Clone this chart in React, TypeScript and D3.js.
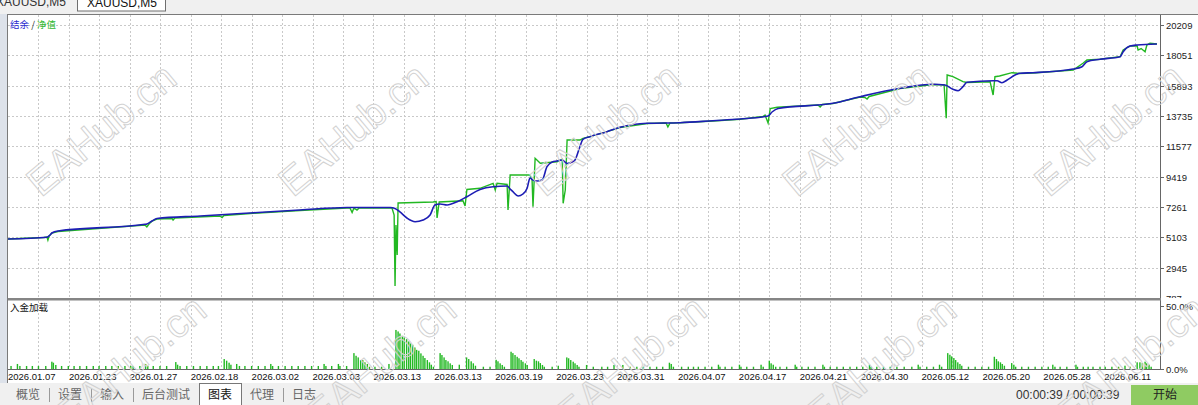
import { useRef, useEffect } from "react";
import * as d3 from "d3";

// balance / equity curves: [test position, account value]
const balance: [number, number][] = [
  [0, 4985], [12.8, 5106], [13.8, 5270], [14.4, 5411], [16.4, 5554], [45.0, 6030],
  [45.6, 6052], [47.3, 6265], [48.9, 6443], [63.1, 6621], [79.5, 6835], [95.9, 7048],
  [111.3, 7226], [125.5, 7226], [127.1, 7155], [128.7, 6906], [131.0, 6479], [133.7, 6216],
  [136.3, 6336], [138.6, 6692], [140.2, 7403], [141.9, 7475], [144.2, 7403], [147.5, 7638],
  [150.7, 7994], [155.0, 8506], [159.3, 8706], [163.9, 8755], [164.9, 8542], [165.8, 8350],
  [167.5, 8044], [169.1, 8186], [170.5, 8613], [171.4, 9324], [172.4, 9182], [173.7, 9111],
  [175.4, 9182], [177.0, 10129], [178.7, 10463], [180.3, 10534], [182.0, 10605], [183.6, 10356],
  [185.2, 10463], [186.2, 10605], [187.8, 11551], [188.8, 12078], [191.1, 12263], [196.7, 12618],
  [201.0, 12931], [209.9, 13216], [220.7, 13259], [231.5, 13401], [240.4, 13522], [249.6, 13735],
  [250.9, 14020], [252.9, 14269], [270.9, 14639], [279.8, 15108], [292.9, 15706], [303.8, 15990],
  [307.7, 15941], [310.3, 15635], [312.0, 15535], [313.6, 15820], [314.9, 16133], [323.5, 16246],
  [324.8, 16246], [326.4, 16104], [328.1, 16296], [330.7, 16652], [332.3, 16773], [336.6, 16816],
  [349.8, 17079], [352.7, 17242], [354.3, 17598], [358.6, 17769], [365.2, 17954], [366.2, 18310],
  [368.5, 18715], [370.8, 18786], [377.3, 18857],
];

const equity: [number, number][] = [
  [0, 4985], [11.8, 5092], [12.8, 5127], [13.1, 4914], [13.5, 5198], [14.4, 5411],
  [16.4, 5518], [45.0, 5981], [45.6, 5839], [46.3, 6052], [47.3, 6265], [48.9, 6408],
  [53.9, 6443], [54.2, 6336], [54.8, 6479], [69.6, 6621], [70.3, 6514], [70.9, 6657],
  [79.5, 6799], [95.9, 7012], [111.3, 7190], [112.3, 7190], [113.0, 6870], [113.6, 7190],
  [114.6, 7048], [115.3, 7190], [126.1, 7190], [126.8, 6692], [127.1, 1641], [127.4, 5981],
  [127.8, 3847], [128.1, 7546], [139.6, 7618], [140.6, 7653], [140.9, 6479], [141.6, 7618],
  [149.4, 7710], [150.1, 7332], [150.7, 8506], [155.0, 8591], [159.3, 8947], [160.0, 8471],
  [160.6, 8947], [163.9, 8862], [164.2, 7048], [164.5, 8115], [164.9, 9538], [171.4, 9538],
  [172.1, 9182], [172.4, 7283], [173.1, 10726], [174.8, 10371], [180.3, 10484], [182.0, 10655],
  [182.3, 7524], [183.0, 8471], [183.6, 12028], [187.8, 12028], [188.8, 12149], [191.1, 12263],
  [196.7, 12618], [201.0, 12917], [209.9, 13202], [216.1, 13238], [216.7, 12953], [217.4, 13238],
  [220.7, 13252], [231.5, 13380], [240.4, 13501], [247.9, 13700], [248.6, 13806], [249.6, 13238],
  [250.3, 14269], [252.6, 14354], [266.0, 14518], [266.7, 14375], [267.4, 14554], [270.9, 14625],
  [279.8, 15087], [281.4, 15051], [282.1, 14945], [282.8, 15123], [292.9, 15692], [303.8, 15976],
  [307.4, 15941], [308.1, 13572], [308.4, 16652], [310.3, 16531], [313.6, 16175], [314.9, 16118],
  [322.5, 16175], [323.5, 15229], [324.1, 16531], [325.6, 16581], [329.7, 16816], [332.3, 16759],
  [336.6, 16795], [349.8, 17008], [353.0, 17485], [354.3, 17719], [358.6, 17769], [365.2, 17954],
  [366.2, 18430], [368.5, 18715], [370.8, 18715], [371.1, 18430], [372.1, 18537], [373.4, 18310],
  [374.0, 18786], [375.0, 18908], [377.3, 18857],
];

// deposit load histogram: [test position, percent]
const depositLoad: [number, number][] = [
  [1.0, 2.4], [3.1, 4.0], [3.9, 2.4], [6.1, 2.4], [8.0, 2.4], [10.0, 2.4], [12.4, 2.4],
  [14.4, 5.8], [14.9, 5.0], [15.7, 3.2], [17.6, 2.4], [19.8, 2.4], [21.7, 2.4], [23.6, 2.4],
  [25.8, 2.4], [28.0, 2.4], [29.9, 2.4], [32.1, 2.4], [34.1, 2.4], [36.2, 2.4], [38.4, 2.4],
  [40.3, 2.4], [41.1, 2.4], [43.3, 2.4], [45.2, 4.0], [45.9, 2.4], [47.7, 2.4], [49.9, 2.4],
  [52.1, 2.4], [55.1, 5.5], [55.7, 3.4], [56.5, 2.4], [58.7, 2.4], [60.9, 2.4], [63.1, 2.4],
  [65.3, 2.4], [67.4, 2.4], [69.1, 2.4], [71.0, 7.9], [71.8, 6.6], [72.6, 5.0], [73.2, 3.4],
  [75.1, 4.0], [76.0, 2.4], [77.8, 2.4], [80.0, 2.4], [82.2, 2.4], [84.4, 2.4], [86.3, 4.0],
  [86.9, 2.4], [88.8, 2.4], [91.0, 2.4], [93.2, 2.4], [95.3, 2.4], [97.5, 2.4], [99.7, 2.4],
  [101.9, 2.4], [103.8, 4.0], [104.4, 2.4], [106.3, 2.4], [108.5, 4.0], [109.0, 2.4], [111.2, 2.4],
  [113.6, 12.6], [114.3, 10.5], [115.0, 9.2], [115.8, 7.1], [116.5, 7.1], [117.2, 5.3], [118.0, 4.0],
  [118.7, 1.8], [120.5, 1.8], [122.7, 1.8], [125.1, 4.0], [127.4, 31.0], [128.1, 29.8], [128.7, 28.2],
  [129.5, 26.3], [130.1, 25.0], [130.9, 23.7], [131.6, 21.9], [132.2, 20.3], [132.9, 19.2], [133.6, 17.1],
  [134.2, 15.2], [134.9, 14.5], [135.6, 12.4], [136.3, 10.5], [136.9, 8.7], [137.7, 7.1], [138.4, 5.3],
  [139.0, 3.4], [139.7, 1.8], [141.9, 12.6], [142.5, 11.1], [143.2, 9.2], [143.8, 7.1], [144.5, 6.1],
  [145.2, 4.5], [145.9, 3.2], [148.2, 3.4], [150.6, 9.2], [151.3, 7.9], [152.1, 6.1], [152.8, 4.5],
  [153.5, 2.6], [156.1, 1.8], [158.3, 1.8], [160.3, 7.3], [160.9, 6.1], [161.6, 4.5], [162.3, 3.2],
  [163.0, 1.8], [165.2, 13.7], [165.8, 12.6], [166.5, 11.1], [167.2, 9.7], [167.8, 8.5], [168.5, 7.1],
  [169.1, 5.8], [169.9, 4.5], [170.5, 3.2], [172.8, 7.9], [173.5, 6.6], [174.2, 6.1], [174.8, 4.7],
  [175.5, 3.2], [176.1, 1.8], [178.7, 1.8], [180.7, 2.6], [183.5, 9.2], [184.1, 8.5], [184.8, 7.1],
  [185.6, 5.8], [186.2, 4.5], [186.9, 3.2], [187.5, 1.8], [190.0, 3.2], [192.2, 1.8], [195.0, 1.8],
  [196.9, 1.8], [199.0, 3.2], [201.9, 3.2], [204.3, 1.8], [206.5, 1.8], [208.6, 1.8], [210.8, 1.8],
  [213.0, 1.8], [215.0, 1.8], [217.2, 5.0], [217.8, 4.0], [218.5, 1.8], [221.2, 1.8], [223.4, 1.8],
  [225.1, 1.8], [226.7, 1.8], [228.9, 1.8], [231.1, 1.8], [233.3, 3.4], [233.8, 1.8], [235.5, 1.8],
  [237.7, 1.8], [240.2, 3.4], [240.7, 1.8], [242.6, 1.8], [244.8, 1.8], [247.3, 3.4], [248.0, 1.8],
  [250.0, 6.6], [250.6, 4.5], [251.3, 3.4], [252.1, 1.8], [253.5, 1.8], [255.7, 1.8], [258.5, 3.4],
  [259.0, 1.8], [260.7, 1.8], [262.8, 1.8], [265.0, 1.8], [267.6, 3.4], [268.1, 1.8], [270.0, 1.8],
  [272.2, 1.8], [274.3, 1.8], [276.5, 1.8], [278.7, 1.8], [280.7, 1.8], [282.9, 3.4], [283.4, 1.8],
  [285.3, 1.8], [287.5, 1.8], [289.7, 1.8], [291.9, 1.8], [294.3, 1.8], [296.8, 1.8], [298.9, 3.4],
  [299.5, 1.8], [301.7, 1.8], [303.9, 1.8], [305.9, 3.4], [306.6, 1.8], [308.6, 12.6], [309.3, 11.3],
  [309.9, 10.0], [310.6, 8.7], [311.2, 7.1], [311.9, 5.3], [312.6, 4.0], [313.2, 2.6], [315.4, 1.8],
  [317.6, 1.8], [319.8, 1.8], [322.0, 1.8], [323.9, 9.7], [324.6, 7.9], [325.2, 6.1], [325.9, 5.3],
  [326.5, 4.0], [327.2, 2.6], [329.6, 4.7], [330.3, 3.4], [330.9, 1.8], [332.9, 1.8], [335.1, 1.8],
  [337.3, 1.8], [339.5, 1.8], [341.6, 1.8], [343.1, 3.4], [343.8, 1.8], [345.5, 1.8], [347.7, 1.8],
  [350.7, 3.4], [351.2, 1.8], [353.1, 1.8], [354.7, 1.8], [356.3, 1.8], [358.6, 1.8], [360.3, 1.8],
  [362.5, 1.8], [364.7, 1.8], [366.8, 2.6], [368.5, 1.8], [370.8, 5.3], [371.7, 5.3], [372.5, 4.7],
  [373.4, 5.8], [373.9, 4.5], [374.7, 3.4], [375.4, 1.8],
];

const dateLabels = [
  "2026.01.07", "2026.01.23", "2026.01.27", "2026.02.18", "2026.03.02", "2026.03.03",
  "2026.03.13", "2026.03.13", "2026.03.19", "2026.03.23", "2026.03.31", "2026.04.07",
  "2026.04.17", "2026.04.21", "2026.04.30", "2026.05.12", "2026.05.20", "2026.05.28",
  "2026.06.11",
];
const valueTicks = [20209, 18051, 15893, 13735, 11577, 9419, 7261, 5103, 2945, 787];
const loadTicks = [50, 0];

const legendBalance = "结余";
const legendEquity = "净值";
const loadTitle = "入金加载";
const symbolTab = "XAUUSD,M5";
const bottomTabs = ["概览", "设置", "输入", "后台测试", "图表", "代理", "日志"];
const activeTab = "图表";
const timerText = "00:00:39 / 00:00:39";
const startText = "开始";
const watermark = "EAHub.cn";

const W = 1198;
const H = 405;
const left = 8;
const right = 1160;
const mainTop = 15;
const mainBottom = 298;
const subBottom = 369;

const BLUE = "#1d1db4";
const GREEN = "#22b822";
const latin = "'Liberation Sans', Arial, sans-serif";
const cjk = "'Noto Sans CJK SC', sans-serif";

export default function App() {
  const ref = useRef<HTMLDivElement>(null);

  useEffect(() => {
    document.body.style.margin = "0";
    const root = d3.select(ref.current);
    root.selectAll("*").remove();

    const svg = root
      .append("svg")
      .attr("width", W)
      .attr("height", H)
      .style("display", "block")
      .style("font-family", latin);

    const x = d3.scaleLinear().domain([0, 378.3]).range([left, right]);
    const y = d3.scaleLinear().domain([787, 20209]).range([298, 25]);
    const ySub = d3.scaleLinear().domain([0, 50]).range([subBottom, 306]);

    // backgrounds
    svg.append("rect").attr("width", W).attr("height", H).attr("fill", "#f0f0f0");
    svg.append("rect").attr("x", 0).attr("y", 14).attr("width", 7).attr("height", 369).attr("fill", "#dde2ea");
    svg.append("rect").attr("x", 7).attr("y", 14).attr("width", W - 7).attr("height", 369).attr("fill", "#fff");

    // top symbol tabs
    svg.append("text").attr("x", -4).attr("y", 6).attr("font-size", 12).attr("fill", "#333").text(symbolTab);
    svg.append("rect").attr("x", 77.5).attr("y", -2).attr("width", 88).attr("height", 13)
      .attr("fill", "#fff").attr("stroke", "#6f6f6f");
    svg.append("text").attr("x", 87).attr("y", 7).attr("font-size", 12).attr("fill", "#111").text(symbolTab);

    // grid
    const grid = svg.append("g").attr("stroke", "#c9c9c9").attr("stroke-dasharray", "2,2").attr("stroke-width", 1);
    d3.range(10, 378, 10).forEach((u) => {
      const gx = Math.round(x(u)) + 0.5;
      grid.append("line").attr("x1", gx).attr("x2", gx).attr("y1", mainTop).attr("y2", mainBottom);
      grid.append("line").attr("x1", gx).attr("x2", gx).attr("y1", 301).attr("y2", subBottom);
    });
    valueTicks.slice(0, -1).forEach((v) => {
      const gy = Math.round(y(v)) + 0.5;
      grid.append("line").attr("x1", left).attr("x2", right).attr("y1", gy).attr("y2", gy);
    });

    // clip for main panel
    svg.append("clipPath").attr("id", "mainClip").append("rect")
      .attr("x", left).attr("y", mainTop).attr("width", right - left).attr("height", mainBottom - mainTop);
    svg.append("clipPath").attr("id", "axisClip").append("rect")
      .attr("x", right).attr("y", mainTop).attr("width", W - right).attr("height", mainBottom - mainTop);

    const lineGen = d3.line<[number, number]>().x((d) => x(d[0])).y((d) => y(d[1]));
    const curves = svg.append("g").attr("clip-path", "url(#mainClip)").attr("fill", "none");
    curves.append("path").attr("d", lineGen(equity)).attr("stroke", GREEN).attr("stroke-width", 1.4);
    curves.append("path").attr("d", lineGen.curve(d3.curveMonotoneX)(balance))
      .attr("stroke", BLUE).attr("stroke-width", 1.6);

    // deposit load bars
    svg.append("g").selectAll("rect").data(depositLoad).enter().append("rect")
      .attr("x", (d) => x(d[0]) - 0.7)
      .attr("y", (d) => ySub(d[1]))
      .attr("width", 1.4)
      .attr("height", (d) => subBottom - ySub(d[1]))
      .attr("fill", GREEN);

    // legends
    const legend = svg.append("text").attr("x", 10).attr("y", 28).attr("font-family", cjk).attr("font-size", 9.5);
    legend.append("tspan").attr("fill", "#2b2bd0").text(legendBalance);
    legend.append("tspan").attr("fill", "#333").text(" / ");
    legend.append("tspan").attr("fill", "#2fb82f").text(legendEquity);
    svg.append("text").attr("x", 10).attr("y", 311).attr("font-family", cjk).attr("font-size", 9.5)
      .attr("fill", "#111").text(loadTitle);

    // right axis
    svg.append("line").attr("x1", right + 0.5).attr("x2", right + 0.5).attr("y1", 14).attr("y2", subBottom + 1)
      .attr("stroke", "#666");
    const valueAxis = svg.append("g").attr("clip-path", "url(#axisClip)");
    valueTicks.forEach((v) => {
      const ty = Math.round(y(v)) + 0.5;
      valueAxis.append("line").attr("x1", right).attr("x2", right + 4).attr("y1", ty).attr("y2", ty).attr("stroke", "#666");
      valueAxis.append("text").attr("x", 1166).attr("y", ty).attr("dy", "0.35em").attr("font-size", 9.5)
        .attr("fill", "#222").text(v);
    });
    loadTicks.forEach((v) => {
      const ty = Math.round(ySub(v)) + 0.5;
      svg.append("line").attr("x1", right).attr("x2", right + 4).attr("y1", ty).attr("y2", ty).attr("stroke", "#666");
      svg.append("text").attr("x", 1166).attr("y", ty).attr("dy", "0.35em").attr("font-size", 9.5)
        .attr("fill", "#222").text(v.toFixed(1) + "%");
    });

    // panel separator
    svg.append("rect").attr("x", 7).attr("y", 298).attr("width", right - 6).attr("height", 2.5).attr("fill", "#858585");

    // bottom axis + dates
    svg.append("line").attr("x1", 7).attr("x2", right + 1).attr("y1", subBottom + 0.5).attr("y2", subBottom + 0.5)
      .attr("stroke", "#666");
    dateLabels.forEach((label, i) => {
      svg.append("text").attr("x", x(i * 20)).attr("y", 380).attr("font-size", 9.5).attr("fill", "#111").text(label);
    });

    // frame
    svg.append("line").attr("x1", 7).attr("x2", W).attr("y1", 14.5).attr("y2", 14.5).attr("stroke", "#7a7a7a");
    svg.append("line").attr("x1", 7.5).attr("x2", 7.5).attr("y1", 14).attr("y2", 383).attr("stroke", "#7a7a7a");

    // bottom tab bar
    svg.append("rect").attr("x", 0).attr("y", 383).attr("width", W).attr("height", 22).attr("fill", "#f0f0f0");
    let tx = 7;
    bottomTabs.forEach((name, i) => {
      const w = name.length * 12 + 18;
      const active = name === activeTab;
      if (active) {
        svg.append("rect").attr("x", tx + 0.5).attr("y", 383.5).attr("width", w).attr("height", 24)
          .attr("fill", "#fff").attr("stroke", "#777");
      } else if (i < bottomTabs.length - 1 && bottomTabs[i + 1] !== activeTab) {
        svg.append("line").attr("x1", tx + w + 0.5).attr("x2", tx + w + 0.5).attr("y1", 388).attr("y2", 402)
          .attr("stroke", "#9a9a9a");
      }
      svg.append("text").attr("x", tx + w / 2).attr("y", 395).attr("dy", "0.36em").attr("text-anchor", "middle")
        .attr("font-family", cjk).attr("font-size", 12).attr("fill", active ? "#111" : "#666").text(name);
      tx += w;
    });
    svg.append("text").attr("x", 1016).attr("y", 395).attr("dy", "0.36em").attr("font-size", 12)
      .attr("fill", "#333").text(timerText);
    svg.append("rect").attr("x", 1131).attr("y", 385).attr("width", 67).attr("height", 20).attr("fill", "#8fcb62");
    svg.append("text").attr("x", 1165).attr("y", 395).attr("dy", "0.36em").attr("text-anchor", "middle")
      .attr("font-family", cjk).attr("font-size", 12).attr("fill", "#222").text(startText);

    // watermarks
    const wm = svg.append("g").attr("fill", "none").attr("stroke", "#d2d2d2").attr("stroke-width", 1)
      .attr("font-size", 40).attr("text-anchor", "middle");
    [0, 1, 2, 3, 4].forEach((k) => {
      wm.append("text").attr("transform", `translate(${110 + 252 * k},140) rotate(-40)`).text(watermark);
      wm.append("text").attr("transform", `translate(${140 + 250 * k},372) rotate(-40)`).text(watermark);
    });
  }, []);

  return <div ref={ref}></div>;
}
